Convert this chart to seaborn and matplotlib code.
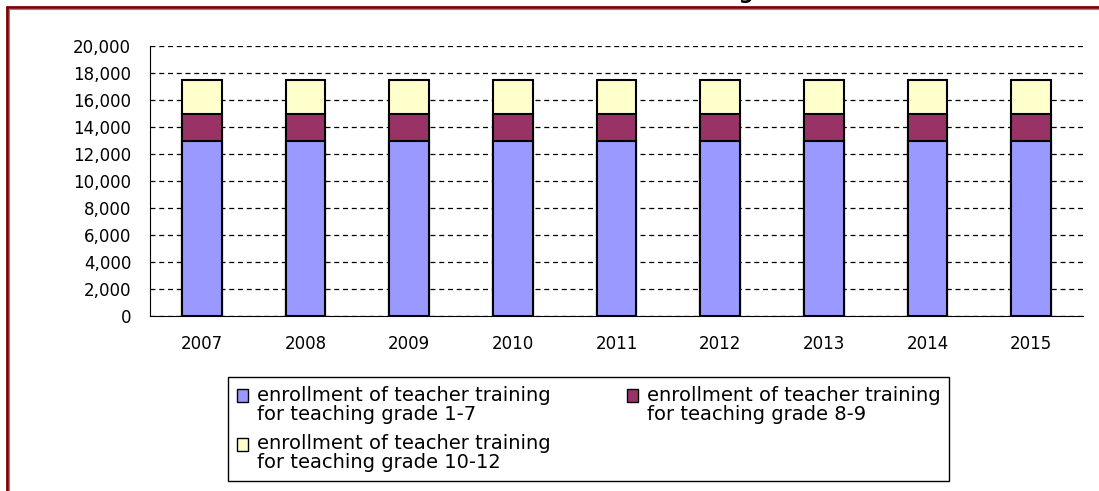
import numpy as np
import pandas as pd
import matplotlib
matplotlib.use('Agg')
from matplotlib import pyplot as plt
from matplotlib.patches import Patch, Rectangle
from matplotlib.lines import Line2D
from matplotlib.legend_handler import HandlerPatch
from matplotlib.ticker import StrMethodFormatter
import seaborn as sns

# data
years = ['2007', '2008', '2009', '2010', '2011', '2012', '2013', '2014', '2015']
grade_1_7 = [13000, 13000, 13000, 13000, 13000, 13000, 13000, 13000, 13000]
grade_8_9 = [2000, 2000, 2000, 2000, 2000, 2000, 2000, 2000, 2000]
grade_10_12 = [2500, 2500, 2500, 2500, 2500, 2500, 2500, 2500, 2500]
labels = ['enrollment of teacher training\nfor teaching grade 1-7',
          'enrollment of teacher training\nfor teaching grade 8-9',
          'enrollment of teacher training\nfor teaching grade 10-12']
colors = ['#9999FF', '#993366', '#FFFFCC']

df = pd.DataFrame({'year': years, 'g1': grade_1_7, 'g2': grade_8_9, 'g3': grade_10_12})
df['upto_g2'] = df.g1 + df.g2
df['total'] = df.upto_g2 + df.g3

sns.set_style('white')
plt.rcParams['font.family'] = ['DejaVu Sans']
plt.rcParams['text.color'] = 'black'
plt.rcParams['xtick.color'] = 'black'
plt.rcParams['ytick.color'] = 'black'

fig = plt.figure(figsize=(10.99, 4.91), dpi=100)
ax = fig.add_axes([150/1099, 1-316/491, (1083-150)/1099, (316-46)/491])

# stacked bars: draw cumulative heights, tallest first
sns.barplot(data=df, x='year', y='total', color=colors[2], width=0.38, saturation=1,
            edgecolor='black', linewidth=1.5, errorbar=None, ax=ax)
sns.barplot(data=df, x='year', y='upto_g2', color=colors[1], width=0.38, saturation=1,
            edgecolor='black', linewidth=1.5, errorbar=None, ax=ax)
sns.barplot(data=df, x='year', y='g1', color=colors[0], width=0.38, saturation=1,
            edgecolor='black', linewidth=1.5, errorbar=None, ax=ax)

ax.set_ylim(0, 20000)
ax.set_xlim(-0.5, len(years) - 0.5)
ax.set_yticks(np.arange(0, 20001, 2000))
ax.yaxis.set_major_formatter(StrMethodFormatter('{x:,.0f}'))
ax.set_xlabel('')
ax.set_ylabel('')

# ticks between categories, labels at centres
ax.set_xticks(np.arange(-0.5, len(years), 1))
ax.set_xticklabels([])
ax.set_xticks(np.arange(len(years)), minor=True)
ax.set_xticklabels(years, minor=True)
ax.tick_params(axis='x', which='major', direction='out', length=5, width=1, color='black')
ax.tick_params(axis='x', which='minor', length=0, pad=14, labelsize=12, labelcolor='black')
ax.tick_params(axis='y', direction='inout', length=11, width=1, color='black', pad=8,
               labelsize=12, labelcolor='black')

ax.yaxis.grid(True, linestyle=(0, (4, 3)), color='black', linewidth=0.9)
ax.set_axisbelow(True)
sns.despine(ax=ax)
ax.spines['left'].set_color('black')
ax.spines['bottom'].set_color('black')


# legend squares sit next to the first line of each label
def top_square(legend, orig_handle, xdescent, ydescent, width, height, fontsize):
    return Rectangle((-xdescent, -ydescent + 7), width, height)


# legend filled row by row like the original (matplotlib fills by column)
order = [0, 2, 1]
handles = [Patch(facecolor=colors[i], edgecolor='black', linewidth=1) for i in order]
leg = fig.legend(handles, [labels[i] for i in order], ncol=2, loc='upper left',
                 bbox_to_anchor=(228/1099, 1-377/491), fontsize=14,
                 frameon=True, fancybox=False, framealpha=1, edgecolor='black',
                 handlelength=0.6, handleheight=0.6, handletextpad=0.45,
                 columnspacing=3.9, borderpad=0.45, labelspacing=0.55, borderaxespad=0,
                 handler_map={Patch: HandlerPatch(patch_func=top_square)})
leg.get_frame().set_linewidth(1)
for t in leg.get_texts():
    t.set_linespacing(1.0)

# title, mostly cut off at the top edge as in the original
fig.text(575/1099, 1+1/491, 'Enrollment of teacher training', ha='center', va='baseline',
         fontsize=15, fontweight='bold')

# dark red frame on top and left
fig.add_artist(Line2D([7/1099, 1], [1-7/491, 1-7/491], transform=fig.transFigure, color='#800000', lw=2))
fig.add_artist(Line2D([7/1099, 7/1099], [0, 1-7/491], transform=fig.transFigure, color='#800000', lw=2))
fig.add_artist(Line2D([9/1099, 1], [1-9/491, 1-9/491], transform=fig.transFigure, color='#888888', lw=0.8))
fig.add_artist(Line2D([9/1099, 9/1099], [0, 1-9/491], transform=fig.transFigure, color='#888888', lw=0.8))

fig.savefig('out.png', dpi=100)
